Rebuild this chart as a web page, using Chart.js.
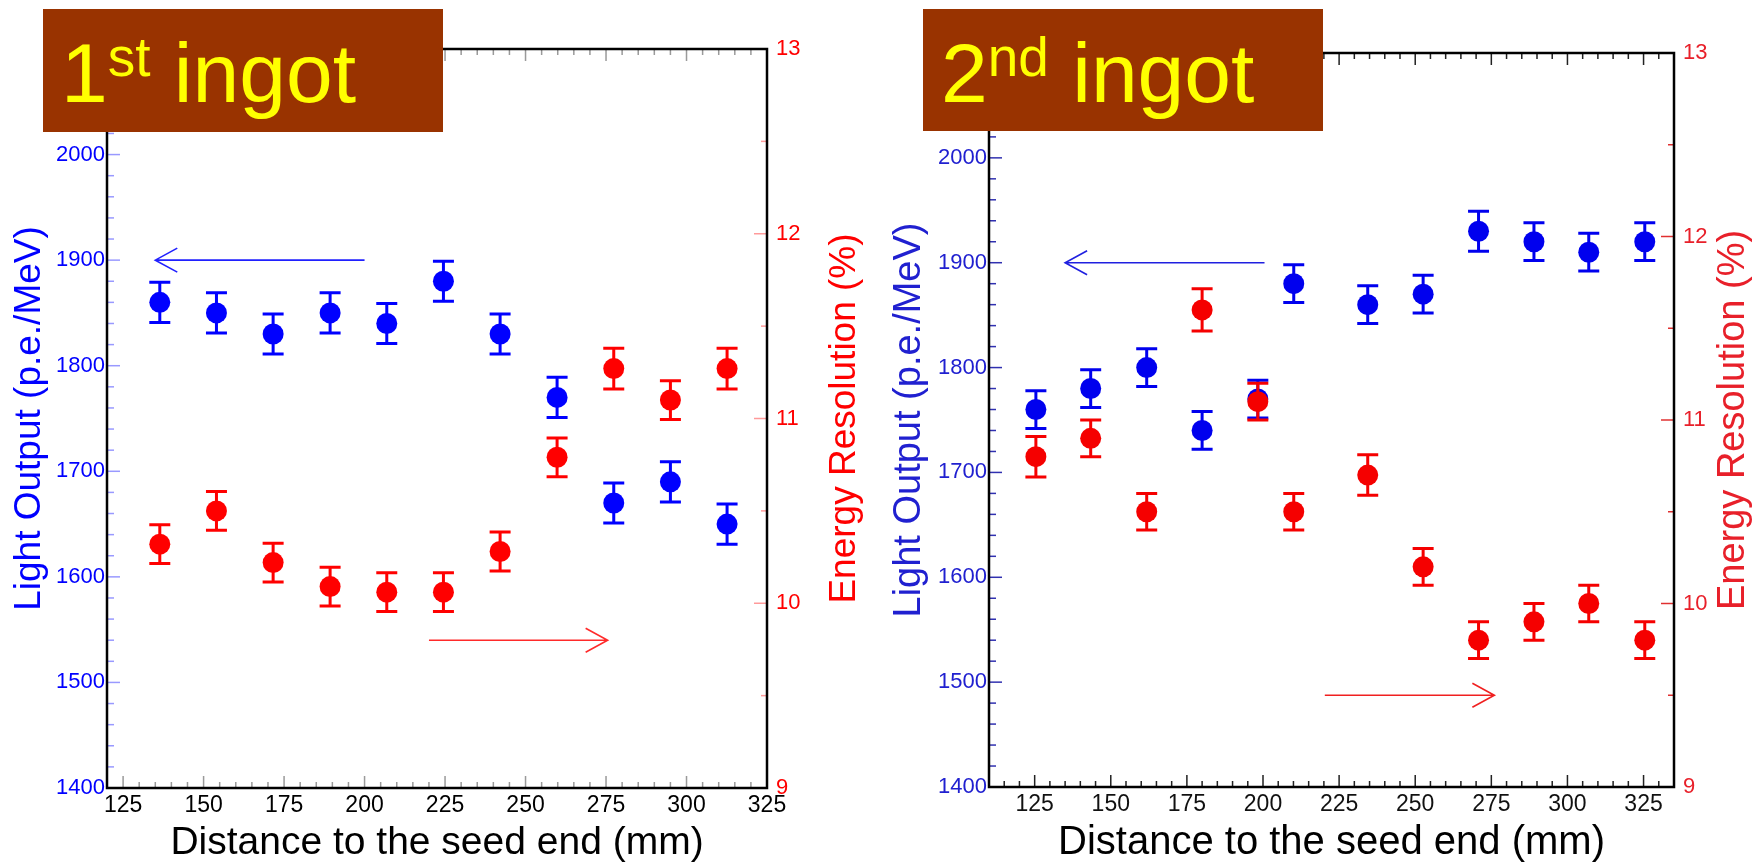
<!DOCTYPE html>
<html>
<head>
<meta charset="utf-8">
<script src="https://cdn.jsdelivr.net/npm/chart.js@4.4.0/dist/chart.umd.min.js"></script>
<style>
html,body{margin:0;padding:0;background:#ffffff;}
body{width:1758px;height:867px;position:relative;overflow:hidden;font-family:"Liberation Sans",Arial,sans-serif;}
.wrap{position:absolute;top:0;width:879px;height:867px;}
.box{position:absolute;background:#993300;}
.lbl{position:absolute;color:#ffff00;font-size:84px;line-height:84px;white-space:nowrap;font-family:"Liberation Sans",Arial,sans-serif;}
.lbl .sup{font-size:55px;position:relative;top:-26px;line-height:0;}
</style>
</head>
<body>
<div class="wrap" style="left:0px"><canvas id="c1" width="879" height="867"></canvas></div>
<div class="wrap" style="left:879px"><canvas id="c2" width="879" height="867"></canvas></div>
<div class="box" style="left:43px;top:9px;width:400px;height:123px"></div>
<div class="lbl" style="left:61px;top:31px">1<span class="sup">st</span> ingot</div>
<div class="box" style="left:923px;top:9px;width:400px;height:122px"></div>
<div class="lbl" style="left:941px;top:31px">2<span class="sup">nd</span> ingot</div>
<script>
// ---------- data ----------
const ingot1Distance = [136.4, 154.0, 171.6, 189.3, 206.9, 224.5, 242.1, 259.8, 277.4, 295.0, 312.6];
const ingot1LightOutput = [1860, 1850, 1830, 1850, 1840, 1880, 1830, 1770, 1670, 1690, 1650];
const ingot1LightOutputErr = [19, 19, 19, 19, 19, 19, 19, 19, 19, 19, 19];
const ingot1Resolution = [10.32, 10.50, 10.22, 10.09, 10.06, 10.06, 10.28, 10.79, 11.27, 11.10, 11.27];
const ingot1ResolutionErr = [0.105, 0.105, 0.105, 0.105, 0.105, 0.105, 0.105, 0.105, 0.11, 0.105, 0.11];

const ingot2Distance = [125.4, 143.4, 161.8, 180.0, 198.3, 210.1, 234.4, 252.6, 270.8, 289.0, 307.0, 325.4];
const ingot2LightOutput = [1760, 1780, 1800, 1740, 1770, 1880, 1860, 1870, 1930, 1920, 1910, 1920];
const ingot2LightOutputErr = [18, 18, 18, 18, 18, 18, 18, 18, 19, 18, 18, 18];
const ingot2Resolution = [10.80, 10.90, 10.50, 11.60, 11.10, 10.50, 10.70, 10.20, 9.80, 9.90, 10.00, 9.80];
const ingot2ResolutionErr = [0.11, 0.1, 0.1, 0.115, 0.1, 0.1, 0.11, 0.1, 0.1, 0.1, 0.1, 0.1];

const distanceTicks = [125, 150, 175, 200, 225, 250, 275, 300, 325];
const lightOutputTicks = [1400, 1500, 1600, 1700, 1800, 1900, 2000];
const resolutionTicks = [9, 10, 11, 12, 13];

// arrows in data units: [xFrom, xTo, y]
const ingot1BlueArrow = [200, 135, 1900];
const ingot1RedArrow = [220, 275.5, 9.8];
const ingot2BlueArrow = [200.5, 135, 1900];
const ingot2RedArrow = [220.3, 276, 9.5];

const FAM = '"Liberation Sans", Arial, sans-serif';

function stepValues(scale, step) {
  const out = [];
  const start = Math.ceil((scale.min - 1e-9) / step) * step;
  for (let v = start; v <= scale.max + 1e-9; v += step) out.push(Math.round(v * 1000) / 1000);
  return out;
}

const decoPlugin = {
  id: 'deco',
  beforeDatasetsDraw(chart, args, o) {
    const {ctx, chartArea: a, scales} = chart;
    const x = scales.x, yl = scales.y, yr = scales.y2;
    ctx.save();
    ctx.lineWidth = 1.5;
    ctx.strokeStyle = o.xTickColor;
    stepValues(x, 5).forEach(v => {
      const px = x.getPixelForValue(v);
      const len = (v % 25 === 0) ? 12 : 6;
      ctx.beginPath();
      ctx.moveTo(px, a.bottom); ctx.lineTo(px, a.bottom - len);
      ctx.moveTo(px, a.top); ctx.lineTo(px, a.top + len);
      ctx.stroke();
    });
    ctx.strokeStyle = o.leftTickColor;
    stepValues(yl, 20).forEach(v => {
      const py = yl.getPixelForValue(v);
      const len = (v % 100 === 0) ? 13 : 7;
      ctx.beginPath(); ctx.moveTo(a.left, py); ctx.lineTo(a.left + len, py); ctx.stroke();
    });
    ctx.strokeStyle = o.rightTickColor;
    stepValues(yr, 0.5).forEach(v => {
      const py = yr.getPixelForValue(v);
      const len = Number.isInteger(v) ? 13 : 6;
      ctx.beginPath(); ctx.moveTo(a.right, py); ctx.lineTo(a.right - len, py); ctx.stroke();
    });
    ctx.strokeStyle = '#000000';
    ctx.lineWidth = 2.5;
    ctx.strokeRect(a.left, a.top, a.right - a.left, a.bottom - a.top);
    o.arrows.forEach(ar => {
      const ys = scales[ar.axis];
      const x0 = x.getPixelForValue(ar.pts[0]);
      const x1 = x.getPixelForValue(ar.pts[1]);
      const py = ys.getPixelForValue(ar.pts[2]);
      const dir = x1 < x0 ? 1 : -1;
      ctx.strokeStyle = ar.color;
      ctx.lineWidth = 1.6;
      ctx.beginPath();
      ctx.moveTo(x0, py); ctx.lineTo(x1, py);
      ctx.moveTo(x1 + dir * 22, py - 12); ctx.lineTo(x1, py); ctx.lineTo(x1 + dir * 22, py + 12);
      ctx.stroke();
    });
    ctx.restore();
  },
  beforeDatasetDraw(chart, args) {
    const ds = chart.data.datasets[args.index];
    const ys = chart.scales[ds.yAxisID];
    const {ctx} = chart;
    ctx.save();
    ctx.strokeStyle = ds.backgroundColor;
    ctx.lineWidth = 3;
    args.meta.data.forEach((el, i) => {
      const v = ds.data[i].y, e = ds.errors[i];
      const top = ys.getPixelForValue(v + e), bot = ys.getPixelForValue(v - e);
      const px = el.x;
      ctx.beginPath();
      ctx.moveTo(px, top); ctx.lineTo(px, bot);
      ctx.moveTo(px - 10.5, top); ctx.lineTo(px + 10.5, top);
      ctx.moveTo(px - 10.5, bot); ctx.lineTo(px + 10.5, bot);
      ctx.stroke();
    });
    ctx.restore();
  },
  afterDraw(chart, args, o) {
    const {ctx, chartArea: a} = chart;
    ctx.save();
    ctx.translate(o.rightTitleX, (a.top + a.bottom) / 2);
    ctx.rotate(-Math.PI / 2);
    ctx.font = o.rightTitleSize + 'px ' + FAM;
    ctx.fillStyle = o.rightTitleColor;
    ctx.textAlign = 'center';
    ctx.textBaseline = 'middle';
    ctx.fillText('Energy Resolution (%)', 0, 0);
    ctx.restore();
  }
};

function makeChart(id, cfg) {
  const pts = (xs, ys) => xs.map((v, i) => ({x: v, y: ys[i]}));
  return new Chart(document.getElementById(id), {
    type: 'scatter',
    data: {
      datasets: [
        {data: pts(cfg.dist, cfg.res), errors: cfg.resErr, yAxisID: 'y2', backgroundColor: cfg.red,
         pointRadius: 10.5, pointBorderWidth: 0, pointHoverRadius: 10.5},
        {data: pts(cfg.dist, cfg.light), errors: cfg.lightErr, yAxisID: 'y', backgroundColor: cfg.blue,
         pointRadius: 10.5, pointBorderWidth: 0, pointHoverRadius: 10.5}
      ]
    },
    options: {
      responsive: false,
      animation: false,
      devicePixelRatio: 1,
      layout: {padding: {top: cfg.top, left: 0, right: 0, bottom: 0}},
      plugins: {
        legend: {display: false},
        tooltip: {enabled: false},
        deco: {
          xTickColor: cfg.xTickColor, leftTickColor: cfg.leftTickColor, rightTickColor: cfg.rightTickColor,
          rightTitleX: cfg.rightTitleX, rightTitleColor: cfg.redLabel, rightTitleSize: cfg.yTitleSize,
          arrows: [
            {pts: cfg.blueArrow, axis: 'y', color: cfg.blueArrowColor},
            {pts: cfg.redArrow, axis: 'y2', color: cfg.redArrowColor}
          ]
        }
      },
      scales: {
        x: {
          type: 'linear', position: 'bottom', min: cfg.xMin, max: cfg.xMax,
          afterBuildTicks: s => { s.ticks = distanceTicks.map(v => ({value: v})); },
          afterFit: s => { s.height = cfg.xHeight; },
          ticks: {autoSkip: false, maxRotation: 0, padding: 4, color: cfg.xLabel, font: {size: 23, family: FAM},
                  callback: v => String(v)},
          grid: {display: false, drawTicks: false},
          border: {display: false},
          title: {display: true, text: 'Distance to the seed end (mm)', color: '#000000',
                  font: {size: cfg.xTitleSize, family: FAM}, padding: {top: 0, bottom: 0}}
        },
        y: {
          type: 'linear', position: 'left', min: 1400, max: 2100,
          afterBuildTicks: s => { s.ticks = lightOutputTicks.map(v => ({value: v})); },
          afterFit: s => { s.width = cfg.leftWidth; },
          ticks: {padding: 2, color: cfg.blueLabel, font: {size: 22, family: FAM}, callback: v => String(v)},
          grid: {display: false, drawTicks: false},
          border: {display: false},
          title: {display: true, text: 'Light Output (p.e./MeV)', color: cfg.blueLabel,
                  font: {size: cfg.yTitleSize, family: FAM}, padding: {top: 8, bottom: 0}}
        },
        y2: {
          type: 'linear', position: 'right', min: 9, max: 13,
          afterBuildTicks: s => { s.ticks = resolutionTicks.map(v => ({value: v})); },
          afterFit: s => { s.width = cfg.rightWidth; },
          ticks: {padding: 9, color: cfg.redLabel, font: {size: 22, family: FAM}, callback: v => String(v)},
          grid: {display: false, drawTicks: false},
          border: {display: false}
        }
      }
    },
    plugins: [decoPlugin]
  });
}

makeChart('c1', {
  dist: ingot1Distance, light: ingot1LightOutput, lightErr: ingot1LightOutputErr,
  res: ingot1Resolution, resErr: ingot1ResolutionErr,
  xMin: 120, xMax: 325, top: 49, xHeight: 79, leftWidth: 107, rightWidth: 112,
  blue: '#0000ff', red: '#ff0000', blueLabel: '#0000ff', redLabel: '#ff0000', xLabel: '#000000',
  xTickColor: '#9a9a9a', leftTickColor: '#9999ff', rightTickColor: '#ff9a9a',
  blueArrow: ingot1BlueArrow, redArrow: ingot1RedArrow, blueArrowColor: '#2020ff', redArrowColor: '#ff2a2a',
  rightTitleX: 845, xTitleSize: 39, yTitleSize: 37
});

makeChart('c2', {
  dist: ingot2Distance, light: ingot2LightOutput, lightErr: ingot2LightOutputErr,
  res: ingot2Resolution, resErr: ingot2ResolutionErr,
  xMin: 110, xMax: 335, top: 53, xHeight: 80, leftWidth: 110, rightWidth: 84,
  blue: '#0000ee', red: '#f50000', blueLabel: '#2020d0', redLabel: '#e8202a', xLabel: '#111111',
  xTickColor: '#222222', leftTickColor: '#3030b0', rightTickColor: '#e03030',
  blueArrow: ingot2BlueArrow, redArrow: ingot2RedArrow, blueArrowColor: '#2020e0', redArrowColor: '#f02020',
  rightTitleX: 855, xTitleSize: 40, yTitleSize: 38
});
</script>
</body>
</html>
